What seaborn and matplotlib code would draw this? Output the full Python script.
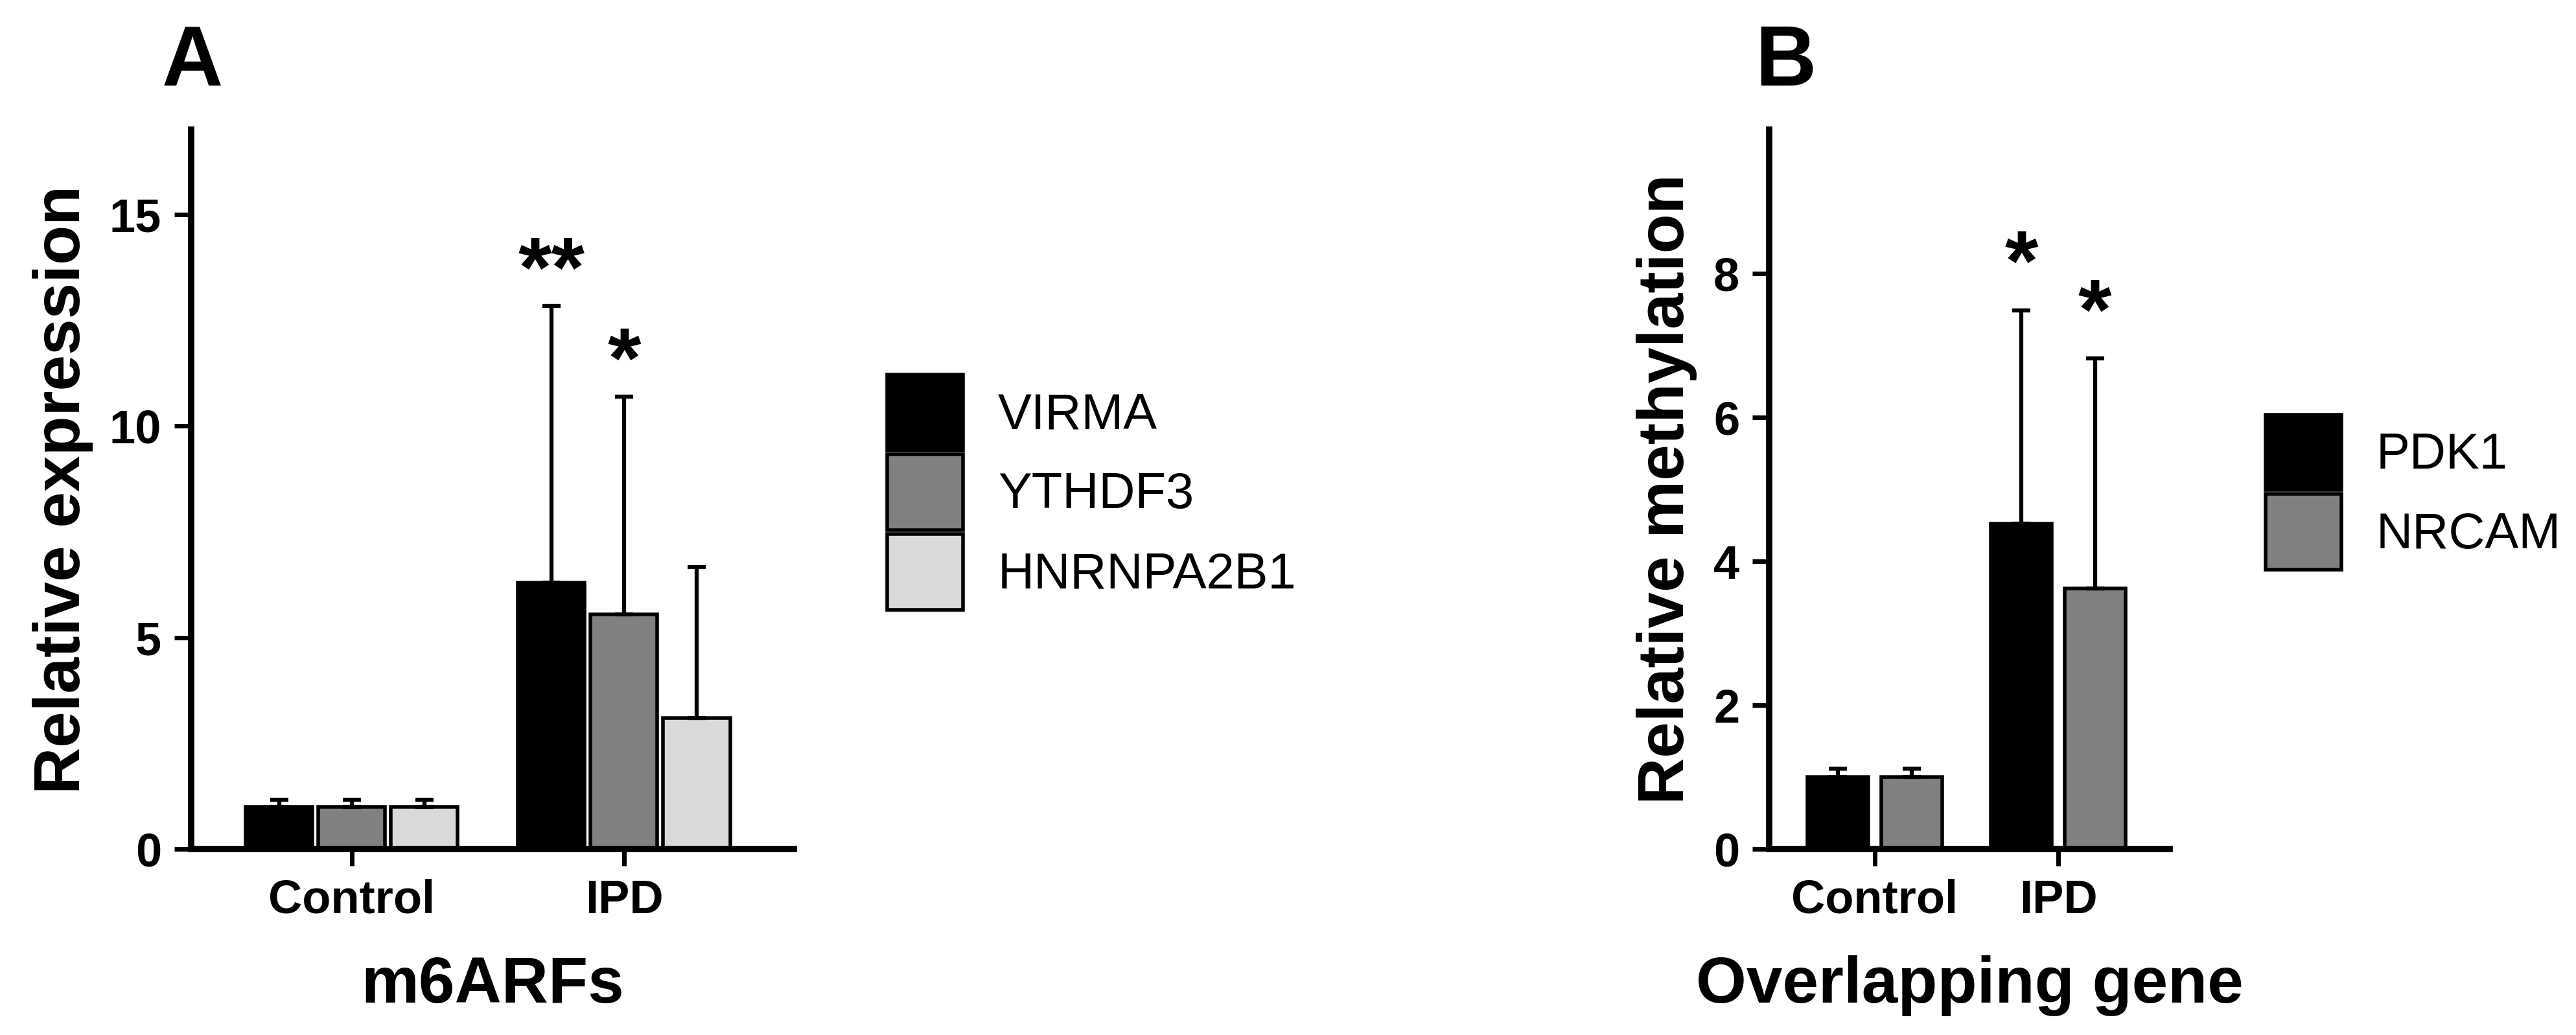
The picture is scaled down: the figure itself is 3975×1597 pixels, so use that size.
import numpy as np
import pandas as pd
import matplotlib
matplotlib.use("Agg")
import matplotlib.pyplot as plt
import seaborn as sns

# --- data ---
groups = ["Control", "IPD"]

genes_a = ["VIRMA", "YTHDF3", "HNRNPA2B1"]
mean_virma = [1.0, 6.3]
mean_ythdf3 = [1.0, 5.55]
mean_hnrnpa2b1 = [1.0, 3.1]
sd_virma = [0.16, 6.54]
sd_ythdf3 = [0.16, 5.14]
sd_hnrnpa2b1 = [0.16, 3.57]
stars_a = {("IPD", "VIRMA"): "**", ("IPD", "YTHDF3"): "*"}

genes_b = ["PDK1", "NRCAM"]
mean_pdk1 = [1.0, 4.52]
mean_nrcam = [1.0, 3.62]
sd_pdk1 = [0.12, 2.97]
sd_nrcam = [0.12, 3.2]
stars_b = {("IPD", "PDK1"): "*", ("IPD", "NRCAM"): "*"}

colors_a = ["#000000", "#808080", "#d9d9d9"]
colors_b = ["#000000", "#808080"]


def long_table(genes, means, sds):
    rows = []
    for g, m, s in zip(genes, means, sds):
        for grp, mv, sv in zip(groups, m, s):
            rows.append({"group": grp, "gene": g, "mean": mv, "sd": sv})
    return pd.DataFrame(rows)


df_a = long_table(genes_a, [mean_virma, mean_ythdf3, mean_hnrnpa2b1],
                  [sd_virma, sd_ythdf3, sd_hnrnpa2b1])
df_b = long_table(genes_b, [mean_pdk1, mean_nrcam], [sd_pdk1, sd_nrcam])

sns.set_style("ticks")
plt.rcParams["font.family"] = ["Liberation Sans", "DejaVu Sans"]
for key in ["text.color", "axes.labelcolor", "xtick.color", "ytick.color",
            "axes.edgecolor"]:
    plt.rcParams[key] = "black"

fig = plt.figure(figsize=(39.75, 15.97), dpi=100)
ax_a = fig.add_axes([0.0742, 0.1797, 0.234, 0.695])
ax_b = fig.add_axes([0.6868, 0.1797, 0.1555, 0.695])


def draw_panel(ax, df, genes, colors, stars, star_pad, ylim, yticks, ylabel,
               xlabel, gap, xlim):
    sns.barplot(data=df, x="group", y="mean", hue="gene", order=groups,
                hue_order=genes, palette=colors, edgecolor="black",
                linewidth=4, width=0.8, gap=gap, errorbar=None,
                legend=False, ax=ax, saturation=1)
    # upper-only SD error bars and significance stars
    for gene, cont in zip(genes, ax.containers):
        sub = df[df["gene"] == gene].set_index("group").loc[groups]
        xs = [p.get_x() + p.get_width() / 2 for p in cont.patches]
        ax.errorbar(xs, sub["mean"], yerr=[np.zeros(len(xs)), sub["sd"]],
                    fmt="none", ecolor="black", elinewidth=4.5, capsize=10,
                    capthick=4.5, zorder=3)
        for x, grp in zip(xs, groups):
            key = (grp, gene)
            if key in stars:
                top = sub.loc[grp, "mean"] + sub.loc[grp, "sd"]
                ax.annotate(stars[key], (x, top), xytext=(0, star_pad),
                            textcoords="offset points", ha="center",
                            va="baseline", fontsize=95, fontweight="bold")
    ax.set_ylim(*ylim)
    ax.set_xlim(*xlim)
    ax.set_yticks(yticks)
    ax.set_ylabel(ylabel, fontsize=72, fontweight="bold", labelpad=18)
    ax.set_xlabel(xlabel, fontsize=72, fontweight="bold", labelpad=36)
    sns.despine(ax=ax)
    for s in ["left", "bottom"]:
        ax.spines[s].set_linewidth(7)
    ax.tick_params(axis="both", width=5, length=19, pad=14, labelsize=52,
                   direction="out")
    for lab in ax.get_xticklabels() + ax.get_yticklabels():
        lab.set_fontweight("bold")


draw_panel(ax_a, df_a, genes_a, colors_a, stars_a, 10, (0, 17), [0, 5, 10, 15],
           "Relative expression", "m6ARFs", 0.08, (-0.59, 1.624))
draw_panel(ax_b, df_b, genes_b, colors_b, stars_b, 22, (0, 10), [0, 2, 4, 6, 8],
           "Relative methylation", "Overlapping gene", 0.17, (-0.576, 1.608))

for ax, genes, x0 in [(ax_a, genes_a, 0.3444), (ax_b, genes_b, 0.8795)]:
    fig.legend(handles=list(ax.containers), labels=genes, loc="center left",
               bbox_to_anchor=(x0, 0.5245), frameon=False, fontsize=56,
               handlelength=1.5, handleheight=1.93, labelspacing=0.08,
               handletextpad=0.7, borderpad=0, borderaxespad=0)

fig.text(0.0629, 0.9173, "A", fontsize=94, fontweight="bold", va="baseline")
fig.text(0.6812, 0.9173, "B", fontsize=94, fontweight="bold", va="baseline")

fig.savefig("out.png", dpi=100, facecolor="white")
